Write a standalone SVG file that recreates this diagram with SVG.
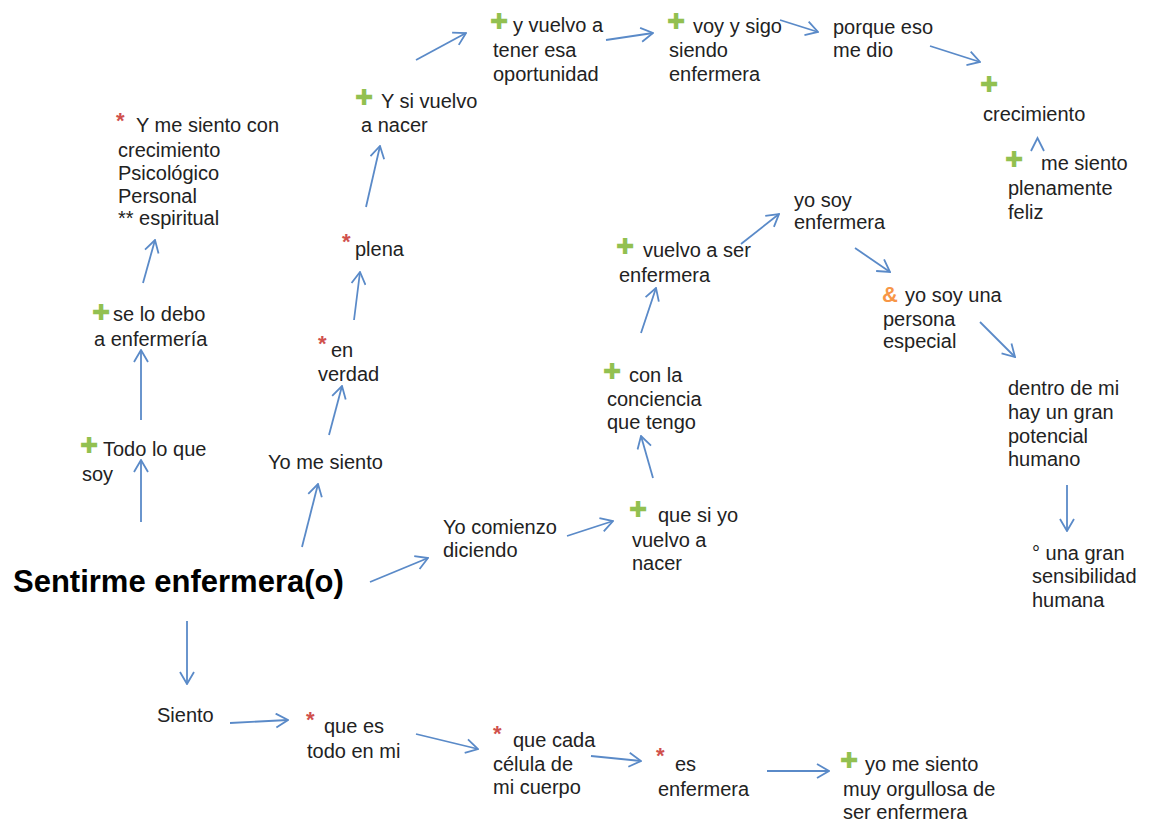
<svg xmlns="http://www.w3.org/2000/svg" width="1162" height="825" viewBox="0 0 1162 825">
  <style>
    .t { font-family: "Liberation Sans", Arial, sans-serif; font-size: 20px; fill: #222222; }
    .title { font-family: "Liberation Sans", Arial, sans-serif; font-size: 31px; font-weight: bold; fill: #000000; }
    .plus { font-family: "DejaVu Sans", sans-serif; font-size: 22px; fill: #92c050; }
    .ast { font-family: "Liberation Sans", Arial, sans-serif; font-size: 22px; font-weight: bold; fill: #d0504d; }
    .amp { font-family: "Liberation Sans", Arial, sans-serif; font-size: 22px; font-weight: bold; fill: #f79646; }
    .arr { stroke: #5a8ac8; stroke-width: 1.8; fill: none; marker-end: url(#head); }
  </style>
  <defs>
    <marker id="head" viewBox="0 0 14 16" markerWidth="14" markerHeight="16" refX="13" refY="8" orient="auto" markerUnits="userSpaceOnUse">
      <path d="M1,1 L13,8 L1,15" fill="none" stroke="#5a8ac8" stroke-width="1.8"/>
    </marker>
  </defs>
  <rect width="1162" height="825" fill="#ffffff"/>

  <g id="connectors">
    <line class="arr" x1="141" y1="522" x2="141" y2="460"/>
    <line class="arr" x1="141" y1="420" x2="141" y2="350"/>
    <line class="arr" x1="143" y1="283" x2="155" y2="240"/>
    <line class="arr" x1="302" y1="547" x2="318" y2="484"/>
    <line class="arr" x1="329" y1="435" x2="342" y2="386"/>
    <line class="arr" x1="354" y1="320" x2="360" y2="272"/>
    <line class="arr" x1="366" y1="207" x2="380" y2="146"/>
    <line class="arr" x1="416" y1="60" x2="466" y2="33"/>
    <line class="arr" x1="606" y1="40" x2="653" y2="33"/>
    <line class="arr" x1="780" y1="20" x2="818" y2="32"/>
    <line class="arr" x1="930" y1="46" x2="980" y2="62"/>
    <path d="M1031,151 L1037.5,138 L1044,151" fill="none" stroke="#5a8ac8" stroke-width="1.8"/>
    <line class="arr" x1="741" y1="244" x2="779" y2="214"/>
    <line class="arr" x1="641" y1="333" x2="656" y2="288"/>
    <line class="arr" x1="653" y1="478" x2="641" y2="436"/>
    <line class="arr" x1="567" y1="536" x2="613" y2="521"/>
    <line class="arr" x1="370" y1="582" x2="428" y2="558"/>
    <line class="arr" x1="855" y1="248" x2="890" y2="272"/>
    <line class="arr" x1="980" y1="322" x2="1015" y2="357"/>
    <line class="arr" x1="1067" y1="485" x2="1067" y2="531"/>
    <line class="arr" x1="187" y1="621" x2="187" y2="684"/>
    <line class="arr" x1="230" y1="723" x2="288" y2="720"/>
    <line class="arr" x1="416" y1="734" x2="478" y2="749"/>
    <line class="arr" x1="591" y1="756" x2="641" y2="761"/>
    <line class="arr" x1="767" y1="771" x2="829" y2="771"/>
  </g>

  <g id="n-crecimiento-psicologico">
    <text class="ast" x="116" y="128">*</text>
    <text class="t" x="136" y="132">Y  me siento con</text>
    <text class="t"><tspan x="118" y="157">crecimiento</tspan><tspan x="118" y="180">Psicológico</tspan><tspan x="118" y="203">Personal</tspan><tspan x="118" y="225">** espiritual</tspan></text>
  </g>

  <g id="n-se-lo-debo">
    <text class="plus" x="92" y="320">✚</text>
    <text class="t" x="113" y="321">se lo debo</text>
    <text class="t" x="94" y="346">a enfermería</text>
  </g>

  <g id="n-todo-lo-que-soy">
    <text class="plus" x="80" y="453">✚</text>
    <text class="t" x="103" y="456">Todo lo que</text>
    <text class="t" x="82" y="481">soy</text>
  </g>

  <g id="n-sentirme">
    <text class="title" x="13" y="592">Sentirme enfermera(o)</text>
  </g>

  <g id="n-yo-me-siento">
    <text class="t" x="268" y="469">Yo me siento</text>
  </g>

  <g id="n-en-verdad">
    <text class="ast" x="318" y="351">*</text>
    <text class="t" x="331" y="357">en</text>
    <text class="t" x="318" y="381">verdad</text>
  </g>

  <g id="n-plena">
    <text class="ast" x="342" y="249">*</text>
    <text class="t" x="355" y="256">plena</text>
  </g>

  <g id="n-y-si-vuelvo">
    <text class="plus" x="355" y="105">✚</text>
    <text class="t" x="381" y="108">Y si vuelvo</text>
    <text class="t" x="361" y="132">a nacer</text>
  </g>

  <g id="n-oportunidad">
    <text class="plus" x="490" y="29">✚</text>
    <text class="t" x="513" y="32">y vuelvo a</text>
    <text class="t"><tspan x="493" y="57">tener esa</tspan><tspan x="493" y="81">oportunidad</tspan></text>
  </g>

  <g id="n-voy-y-sigo">
    <text class="plus" x="667" y="29">✚</text>
    <text class="t" x="693" y="33">voy y sigo</text>
    <text class="t"><tspan x="669" y="57">siendo</tspan><tspan x="669" y="81">enfermera</tspan></text>
  </g>

  <g id="n-porque-eso">
    <text class="t"><tspan x="833" y="34">porque eso</tspan><tspan x="833" y="57">me dio</tspan></text>
  </g>

  <g id="n-crecimiento">
    <text class="plus" x="980" y="92">✚</text>
    <text class="t" x="983" y="121">crecimiento</text>
  </g>

  <g id="n-plenamente-feliz">
    <text class="plus" x="1005" y="167">✚</text>
    <text class="t" x="1041" y="170">me siento</text>
    <text class="t"><tspan x="1008" y="195">plenamente</tspan><tspan x="1008" y="219">feliz</tspan></text>
  </g>

  <g id="n-yo-soy-enfermera">
    <text class="t"><tspan x="794" y="207">yo soy</tspan><tspan x="794" y="229">enfermera</tspan></text>
  </g>

  <g id="n-vuelvo-a-ser">
    <text class="plus" x="616" y="254">✚</text>
    <text class="t" x="643" y="257">vuelvo a ser</text>
    <text class="t" x="619" y="282">enfermera</text>
  </g>

  <g id="n-persona-especial">
    <text class="amp" x="882" y="302">&amp;</text>
    <text class="t" x="905" y="302">yo soy una</text>
    <text class="t"><tspan x="883" y="326">persona</tspan><tspan x="883" y="348">especial</tspan></text>
  </g>

  <g id="n-potencial-humano">
    <text class="t"><tspan x="1008" y="395">dentro de mi</tspan><tspan x="1008" y="419">hay un gran</tspan><tspan x="1008" y="443">potencial</tspan><tspan x="1008" y="466">humano</tspan></text>
  </g>

  <g id="n-sensibilidad">
    <text class="t"><tspan x="1032" y="560">° una gran</tspan><tspan x="1032" y="583">sensibilidad</tspan><tspan x="1032" y="607">humana</tspan></text>
  </g>

  <g id="n-conciencia">
    <text class="plus" x="603" y="379">✚</text>
    <text class="t" x="629" y="382">con la</text>
    <text class="t"><tspan x="607" y="406">conciencia</tspan><tspan x="607" y="429">que tengo</tspan></text>
  </g>

  <g id="n-yo-comienzo">
    <text class="t"><tspan x="443" y="534">Yo comienzo</tspan><tspan x="443" y="557">diciendo</tspan></text>
  </g>

  <g id="n-que-si-yo">
    <text class="plus" x="629" y="517">✚</text>
    <text class="t" x="658" y="522">que si yo</text>
    <text class="t"><tspan x="632" y="547">vuelvo a</tspan><tspan x="632" y="570">nacer</tspan></text>
  </g>

  <g id="n-siento">
    <text class="t" x="157" y="722">Siento</text>
  </g>

  <g id="n-todo-en-mi">
    <text class="ast" x="306" y="727">*</text>
    <text class="t" x="324" y="733">que es</text>
    <text class="t" x="307" y="758">todo en mi</text>
  </g>

  <g id="n-celula">
    <text class="ast" x="493" y="741">*</text>
    <text class="t" x="513" y="747">que cada</text>
    <text class="t"><tspan x="493" y="771">célula de</tspan><tspan x="493" y="794">mi cuerpo</tspan></text>
  </g>

  <g id="n-es-enfermera">
    <text class="ast" x="656" y="763">*</text>
    <text class="t" x="675" y="771">es</text>
    <text class="t" x="658" y="796">enfermera</text>
  </g>

  <g id="n-orgullosa">
    <text class="plus" x="840" y="768">✚</text>
    <text class="t" x="865" y="771">yo me siento</text>
    <text class="t"><tspan x="843" y="796">muy orgullosa de</tspan><tspan x="843" y="819">ser enfermera</tspan></text>
  </g>
</svg>
